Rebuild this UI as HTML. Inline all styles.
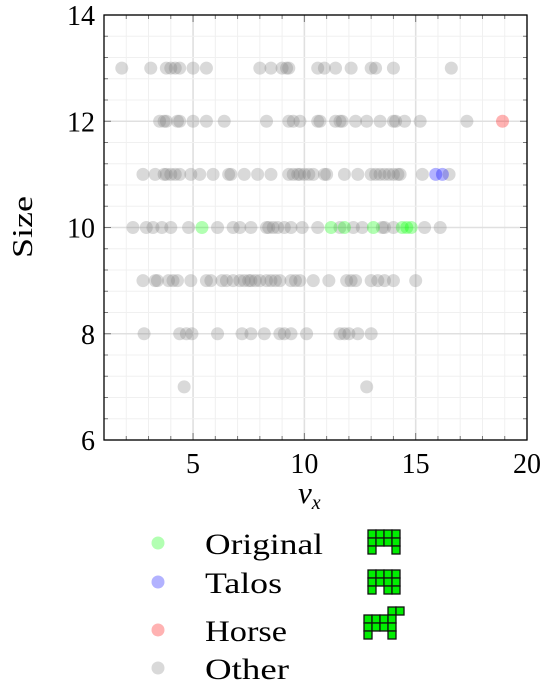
<!DOCTYPE html>
<html><head><meta charset="utf-8"><style>
body{margin:0;background:#fff;width:549px;height:693px;overflow:hidden}
text{font-family:"Liberation Serif",serif}
</style></head><body>
<svg id="chart" width="549" height="693" xmlns="http://www.w3.org/2000/svg">
<g id="grid"></g>
<g id="pts"></g>
<g id="axes"></g>
<text x="32" y="227" font-size="29" text-anchor="middle" textLength="62" lengthAdjust="spacingAndGlyphs" transform="rotate(-90 32 227)">Size</text>
<text x="298" y="503" font-size="31" font-style="italic">v<tspan font-size="20" dy="6">x</tspan></text>
<g>
<g><circle cx="158" cy="543" r="6.5" fill="#00ff00" fill-opacity="0.3"/><text x="205" y="554" font-size="30" textLength="118" lengthAdjust="spacingAndGlyphs">Original</text></g>
<g><circle cx="158" cy="582" r="6.5" fill="#0000ff" fill-opacity="0.3"/><text x="205" y="593" font-size="30" textLength="77" lengthAdjust="spacingAndGlyphs">Talos</text></g>
<g><circle cx="158" cy="630" r="6.5" fill="#ff0000" fill-opacity="0.3"/><text x="205" y="641" font-size="30" textLength="82" lengthAdjust="spacingAndGlyphs">Horse</text></g>
<g><circle cx="158" cy="668" r="6.5" fill="#808080" fill-opacity="0.3"/><text x="205" y="679" font-size="30" textLength="84" lengthAdjust="spacingAndGlyphs">Other</text></g>
<g id="icons"></g>
</g>
</svg>
<script>
const otherX = [
[1.8,3.1,3.8,4.0,4.2,4.4,5.0,5.6,8.0,8.5,9.0,9.2,9.3,10.6,10.9,11.4,12.1,13.0,13.2,14.0,16.6],
[3.5,3.7,3.8,4.3,4.4,5.0,5.6,6.4,8.3,9.3,9.5,9.8,10.6,10.7,11.4,11.6,11.7,12.3,12.8,13.4,14.0,14.1,14.5,15.2,17.3],
[2.75,3.3,3.7,3.8,4.0,4.2,4.4,4.9,5.3,5.9,6.6,6.7,7.3,7.9,8.5,9.3,9.5,9.7,9.8,10.0,10.2,10.4,10.9,11.0,11.8,12.4,13.0,13.2,13.4,13.6,13.8,14.0,14.2,14.3,15.3,16.5],
[2.3,2.9,3.2,3.6,4.0,4.8,6.1,6.8,7.1,7.6,8.3,8.4,8.6,8.8,9.1,9.4,9.9,10.6,11.6,12.2,12.6,13.5,13.6,14.0,15.4,16.1],
[2.75,3.3,3.4,3.9,4.1,4.3,4.9,5.6,5.8,6.3,6.5,6.8,7.1,7.3,7.5,7.6,7.8,8.0,8.3,8.5,8.7,8.9,9.4,9.6,9.8,10.4,11.1,11.9,12.1,12.3,13.0,13.3,13.6,14.0,15.0],
[2.8,4.4,4.7,4.95,6.1,7.2,7.6,8.2,8.9,9.1,9.4,10.1,11.6,11.8,12.0,12.4,13.0],
[4.6,12.8]
];
const otherSizes = [13,12,11,10,9,8,7];
const originalX = [5.4,11.2,11.8,13.1,14.4,14.6,14.8];
const originalY = [10,10,10,10,10,10,10];
const talosX = [15.9,16.2];
const talosY = [11,11];
const horseX = [18.9];
const horseY = [12];
const xTicks = [5,10,15,20];
const yTicks = [6,8,10,12,14];

const X0=104,X1=527,Y0=440,Y1=15,xmin=1,xmax=20,ymin=6,ymax=14;
const sx=v=>X0+(v-xmin)/(xmax-xmin)*(X1-X0);
const sy=v=>Y0-(v-ymin)/(ymax-ymin)*(Y0-Y1);
const NS="http://www.w3.org/2000/svg";
function mk(t,a,p){const e=document.createElementNS(NS,t);for(const k in a)e.setAttribute(k,a[k]);p.appendChild(e);return e;}
const grid=document.getElementById('grid'),pts=document.getElementById('pts'),axes=document.getElementById('axes');
for(let v=xmin;v<=xmax;v++){const maj=v%5===0;mk('line',{x1:sx(v),x2:sx(v),y1:Y1,y2:Y0,stroke:maj?'#e0e0e0':'#f0f0f0','stroke-width':maj?1.6:1},grid);
 mk('line',{x1:sx(v),x2:sx(v),y1:Y0,y2:Y0-(maj?7:4),stroke:'#777'},axes);mk('line',{x1:sx(v),x2:sx(v),y1:Y1,y2:Y1+(maj?7:4),stroke:'#777'},axes);}
for(let i=0;i<=20;i++){const v=ymin+i*0.4;const maj=i%5===0;mk('line',{x1:X0,x2:X1,y1:sy(v),y2:sy(v),stroke:maj?'#e0e0e0':'#f0f0f0','stroke-width':maj?1.6:1},grid);
 mk('line',{x1:X0,x2:X0+(maj?7:4),y1:sy(v),y2:sy(v),stroke:'#777'},axes);mk('line',{x1:X1,x2:X1-(maj?7:4),y1:sy(v),y2:sy(v),stroke:'#777'},axes);}
mk('rect',{x:X0,y:Y1,width:X1-X0,height:Y0-Y1,fill:'none',stroke:'#000','stroke-width':1.3},axes);
xTicks.forEach(v=>{const t=mk('text',{x:sx(v),y:Y0+33,'font-size':28,'text-anchor':'middle'},axes);t.textContent=v;

});
yTicks.forEach(v=>{const t=mk('text',{x:X0-9,y:sy(v)+10,'font-size':28,'text-anchor':'end'},axes);t.textContent=v;

});
function dot(x,y,c,name){const e=mk('circle',{cx:sx(x),cy:sy(y),r:6.5,fill:c,'fill-opacity':0.3},pts);

}
otherX.forEach((row,i)=>row.forEach(x=>dot(x,otherSizes[i],'#808080','point-other')));
originalX.forEach((x,i)=>dot(x,originalY[i],'#00ff00','point-original'));
talosX.forEach((x,i)=>dot(x,talosY[i],'#0000ff','point-talos'));
horseX.forEach((x,i)=>dot(x,horseY[i],'#ff0000','point-horse'));
const icons=document.getElementById('icons');
function icon(ox,oy,cells,name){const g=mk('g',{},icons);


cells.forEach(([c,r])=>mk('rect',{x:ox+c*8,y:oy+r*8,width:8,height:8,fill:'#00ee00',stroke:'#111','stroke-width':1.3},g));}
icon(368,530,[[0,0],[1,0],[2,0],[3,0],[0,1],[1,1],[2,1],[3,1],[0,2],[3,2]],'original-icon');
icon(368,570,[[0,0],[1,0],[2,0],[3,0],[0,1],[1,1],[2,1],[3,1],[0,2],[2,2],[3,2]],'talos-icon');
icon(364,607,[[3,0],[4,0],[0,1],[1,1],[2,1],[3,1],[0,2],[1,2],[2,2],[3,2],[0,3],[3,3]],'horse-icon');
</script>
</body></html>
